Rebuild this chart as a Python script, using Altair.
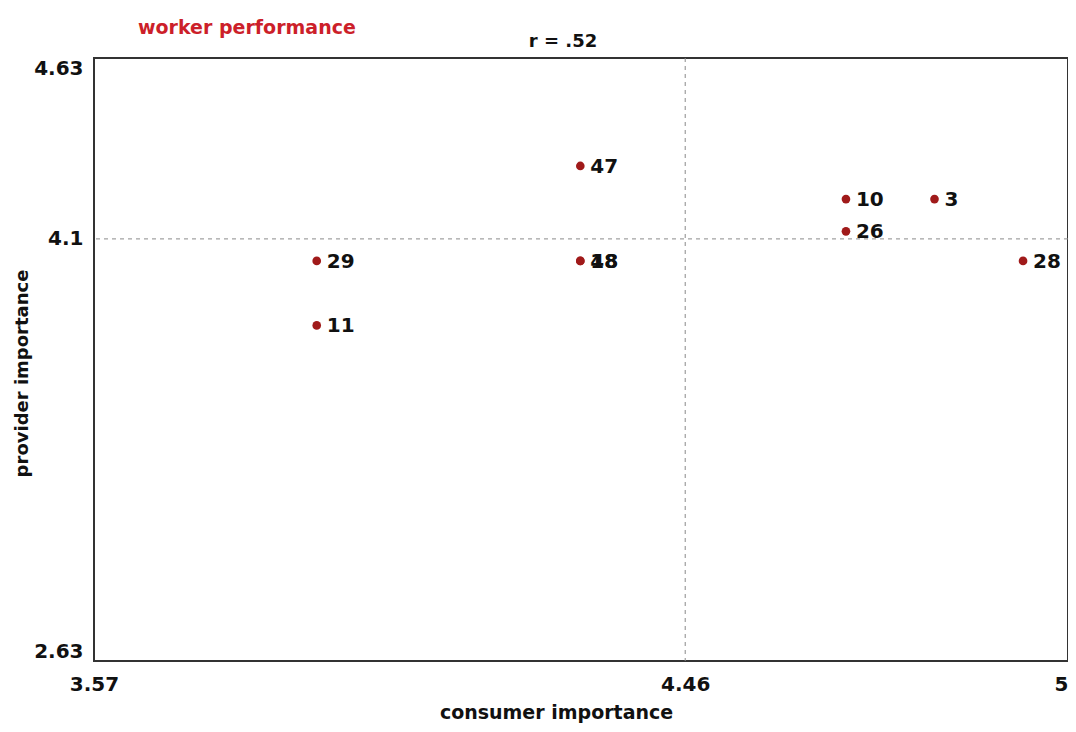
import altair as alt
import pandas as pd

# statement ids and their mean ratings
ids = ["47", "18", "48", "29", "11", "10", "26", "3", "28"]
consumer = [4.284, 4.284, 4.284, 3.897, 3.897, 4.674, 4.674, 4.804, 4.934]
provider = [4.272, 3.957, 3.957, 3.957, 3.743, 4.162, 4.055, 4.162, 3.957]

# axis ranges and reference (mean) lines
x_domain = [3.57, 5.0]
y_domain = [2.63, 4.63]
x_tick_values = [3.57, 4.438, 5.0]
x_tick_labels = ["3.57", "4.46", "5"]
y_tick_values = [2.63, 4.03, 4.63]
y_tick_labels = ["2.63", "4.1", "4.63"]
x_mean = [4.438]
y_mean = [4.03]

title_text = "worker performance"
r_text = "r = .52"

df = pd.DataFrame({"id": ids, "consumer": consumer, "provider": provider,
                   "order": list(range(len(ids)))})


def label_expr(values, labels):
    expr = "''"
    for v, l in zip(values, labels):
        expr = f"abs(datum.value - {v}) < 0.001 ? '{l}' : " + expr
    return expr


FONT = "DejaVu Sans"

x_enc = alt.X(
    "consumer:Q",
    scale=alt.Scale(domain=x_domain, nice=False, zero=False),
    axis=alt.Axis(
        values=x_tick_values,
        labelExpr=label_expr(x_tick_values, x_tick_labels),
        grid=False, ticks=False, domain=False,
        labelFont=FONT, labelFontWeight="bold", labelFontSize=20,
        labelColor="#111", labelPadding=13, labelFlush=False,
        labelAlign=alt.condition("datum.value >= 4.99", alt.value("right"), alt.value("center")),
        title="consumer importance", titleFont=FONT, titleFontWeight="bold",
        titleFontSize=19, titleColor="#111",
        titleX=462, titleY=51, titleBaseline="middle", titleAlign="center",
    ),
)
y_enc = alt.Y(
    "provider:Q",
    scale=alt.Scale(domain=y_domain, nice=False, zero=False),
    axis=alt.Axis(
        values=y_tick_values,
        labelExpr=label_expr(y_tick_values, y_tick_labels),
        grid=False, ticks=False, domain=False,
        labelFont=FONT, labelFontWeight="bold", labelFontSize=20,
        labelColor="#111", labelPadding=11, labelFlush=True,
        title="provider importance", titleFont=FONT, titleFontWeight="bold",
        titleFontSize=18, titleColor="#111",
        titleX=-72, titleY=315, titleBaseline="middle", titleAlign="center",
        titleAngle=270,
    ),
)

base = alt.Chart(df)

vline = alt.Chart(pd.DataFrame({"v": x_mean})).mark_rule(
    color="#8a8a8a", strokeDash=[4, 4], strokeWidth=1
).encode(x=alt.X("v:Q", scale=alt.Scale(domain=x_domain, nice=False, zero=False)))

hline = alt.Chart(pd.DataFrame({"v": y_mean})).mark_rule(
    color="#8a8a8a", strokeDash=[4, 4], strokeWidth=1
).encode(y=alt.Y("v:Q", scale=alt.Scale(domain=y_domain, nice=False, zero=False)))

points = base.mark_circle(size=75, color="#a01a1a", opacity=1).encode(x=x_enc, y=y_enc)

labels = base.mark_text(
    align="left", baseline="middle", dx=10, dy=1,
    font=FONT, fontWeight="bold", fontSize=20, color="#111"
).encode(x="consumer:Q", y="provider:Q", text="id:N", order="order:Q")

title_mark = alt.Chart(pd.DataFrame({"t": [title_text]})).mark_text(
    align="left", baseline="middle", font=FONT, fontWeight="bold",
    fontSize=19, color="#cc1f2a"
).encode(x=alt.value(44), y=alt.value(-30), text="t:N")

r_mark = alt.Chart(pd.DataFrame({"t": [r_text]})).mark_text(
    align="center", baseline="middle", font=FONT, fontWeight="bold",
    fontSize=18, color="#111"
).encode(x=alt.value(469), y=alt.value(-16), text="t:N")

chart = alt.layer(vline, hline, points, labels, title_mark, r_mark).properties(
    width=974, height=603,
    autosize=alt.AutoSizeParams(type="none"),
    padding={"left": 86, "top": 50, "right": 0, "bottom": 63},
    background="white",
).configure_view(stroke="#333", strokeWidth=2)

chart.save("out.html", embed_options={"renderer": "svg", "actions": False})
